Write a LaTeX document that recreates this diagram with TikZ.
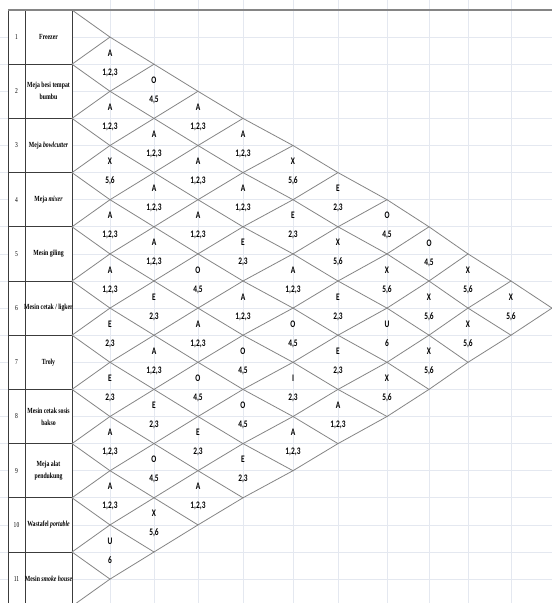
\documentclass[tikz,border=0pt]{standalone}
\usepackage{fontspec}
\setmainfont{Liberation Serif}
\newfontfamily\namefont[FakeStretch=0.74]{Liberation Serif}
\newfontfamily\relfont[FakeStretch=0.74]{Carlito}
\definecolor{gridgray}{HTML}{E4E8F0}
\definecolor{linegray}{HTML}{858585}
\definecolor{tabline}{HTML}{3C3C3C}
\def\colx{{72,110,154,198,243,293,338,387,429,468,511,552}}
\begin{document}
\begin{tikzpicture}[x=1pt,y=-1pt,
    gridline/.style={gridgray,line width=0.8pt},
    tableline/.style={tabline,line width=0.7pt},
    diagline/.style={linegray,line width=0.8pt,line cap=round},
    rownum/.style={font=\namefont\fontsize{7.5}{8}\selectfont,inner sep=0pt},
    rowname/.style={font=\namefont\bfseries\fontsize{7.8}{12}\selectfont,align=center,inner sep=0pt},
    rel/.style={font=\relfont\bfseries\fontsize{10}{19}\selectfont,align=center,inner sep=0pt}]
  \useasboundingbox (0,0) rectangle (552,603);
  \clip (0,0) rectangle (552,603);
  \fill[white] (0,0) rectangle (552,603);
  % sheet grid
  \foreach \m in {1,...,22}
    \draw[gridline] (0,{10+27.1*\m}) -- (552,{10+27.1*\m});
  \foreach \c in {1,...,10}{
    \pgfmathsetmacro\cx{\colx[\c]}
    \draw[gridline] (\cx,0) -- (\cx,603);
  }
  % table of items
  \fill[white] (8,10) rectangle (72,610);
  \foreach \r in {1,...,10}
    \draw[tableline] (8,{10+54.2*\r}) -- (72,{10+54.2*\r});
  \draw[tableline] (8,610) -- (8,10) (25,10) -- (25,610) (72,10) -- (72,610);
  \draw[linegray,line width=1.2pt] (8,10) -- (552,10);
  \foreach \r/\txt in {1/Freezer, 2/{Meja besi tempat\\bumbu}, 3/{Meja \textit{bowlcutter}},
      4/{Meja \textit{mixer}}, 5/Mesin giling, 6/{Mesin cetak / ligker}, 7/Troly,
      8/{Mesin cetak sosis\\bakso}, 9/{Meja alat\\pendukung}, 10/{Wastafel \textit{portable}},
      11/{Mesin \textit{smoke house}}}{
    \node[rownum] (no-\r) at (16.5,{10+54.2*(\r-0.5)}) {\r};
    \node[rowname] (item-\r) at (48.5,{10+54.2*(\r-0.5)}) {\txt};
  }
  % corners of the diamonds
  \foreach \c in {0,...,11}
    \foreach \m in {0,...,22}{
      \pgfmathtruncatemacro\ok{(mod(\c+\m,2)==0)&&(\m>=\c)&&(\m<=22-\c)}
      \ifnum\ok=1
        \pgfmathsetmacro\cx{\colx[\c]}
        \coordinate (v-\c-\m) at (\cx,{10+27.1*\m});
      \fi
    }
  \foreach \c in {0,...,10}
    \foreach \m in {0,...,22}{
      \pgfmathtruncatemacro\ok{(mod(\c+\m,2)==0)&&(\m>=\c)&&(\m<=22-\c)}
      \pgfmathtruncatemacro\cn{\c+1}
      \pgfmathtruncatemacro\mdn{\m+1}
      \pgfmathtruncatemacro\mup{\m-1}
      \ifnum\ok=1
        \ifnum\m<\numexpr21-\c\relax \draw[diagline] (v-\c-\m) -- (v-\cn-\mdn); \fi
        \ifnum\m>\c \draw[diagline] (v-\c-\m) -- (v-\cn-\mup); \fi
      \fi
    }
  % degree of closeness / reason
  \foreach \i/\j/\code/\why in {
      1/2/A/{1,2,3}, 2/3/A/{1,2,3}, 3/4/X/{5,6}, 4/5/A/{1,2,3}, 5/6/A/{1,2,3},
      6/7/E/{2,3}, 7/8/E/{2,3}, 8/9/A/{1,2,3}, 9/10/A/{1,2,3}, 10/11/U/6,
      1/3/O/{4,5}, 2/4/A/{1,2,3}, 3/5/A/{1,2,3}, 4/6/A/{1,2,3}, 5/7/E/{2,3},
      6/8/A/{1,2,3}, 7/9/E/{2,3}, 8/10/O/{4,5}, 9/11/X/{5,6},
      1/4/A/{1,2,3}, 2/5/A/{1,2,3}, 3/6/A/{1,2,3}, 4/7/O/{4,5}, 5/8/A/{1,2,3},
      6/9/O/{4,5}, 7/10/E/{2,3}, 8/11/A/{1,2,3},
      1/5/A/{1,2,3}, 2/6/A/{1,2,3}, 3/7/E/{2,3}, 4/8/A/{1,2,3}, 5/9/O/{4,5},
      6/10/O/{4,5}, 7/11/E/{2,3},
      1/6/X/{5,6}, 2/7/E/{2,3}, 3/8/A/{1,2,3}, 4/9/O/{4,5}, 5/10/I/{2,3}, 6/11/A/{1,2,3},
      1/7/E/{2,3}, 2/8/X/{5,6}, 3/9/E/{2,3}, 4/10/E/{2,3}, 5/11/A/{1,2,3},
      1/8/O/{4,5}, 2/9/X/{5,6}, 3/10/U/6, 4/11/X/{5,6},
      1/9/O/{4,5}, 2/10/X/{5,6}, 3/11/X/{5,6},
      1/10/X/{5,6}, 2/11/X/{5,6},
      1/11/X/{5,6}}{
    \pgfmathtruncatemacro\d{\j-\i}
    \pgfmathsetmacro\cx{\colx[\d]}
    \node[rel] (rel-\i-\j) at (\cx,{10+27.1*(\i+\j-1)-1}) {\code\\\why};
  }
\end{tikzpicture}
\end{document}
